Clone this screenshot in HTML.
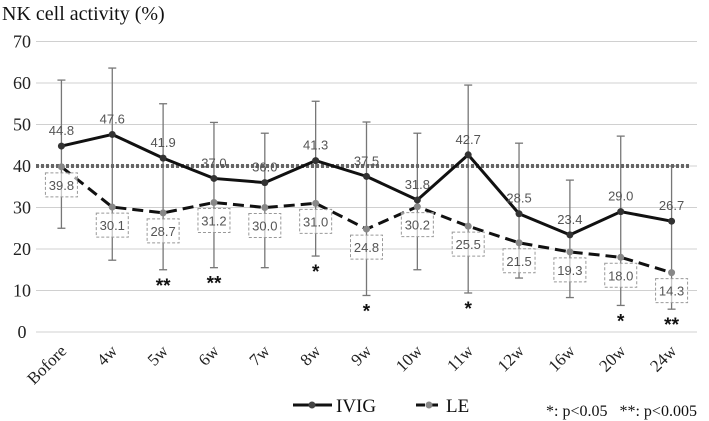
<!DOCTYPE html>
<html><head><meta charset="utf-8"><style>
html,body{margin:0;padding:0;background:#fff;}
svg{display:block;}
svg text.serif{font-family:'Liberation Serif','Times New Roman','DejaVu Serif',serif !important;}
svg text.sans{font-family:'Liberation Sans','DejaVu Sans',sans-serif !important;}
</style></head><body>
<svg id="chart" width="709" height="421" xmlns="http://www.w3.org/2000/svg">
<text class="serif" style="font-family:'Liberation Serif',serif" x="2" y="20" font-size="20" fill="#111">NK cell activity (%)</text>
<g id="grid"></g><g id="marks"></g><g id="labels"></g>
<g>
<g>
<line x1="293" y1="405" x2="332" y2="405" stroke="#111" stroke-width="3"/>
<circle cx="312" cy="405" r="3.5" fill="#444"/>
<text class="serif" style="font-family:'Liberation Serif',serif" x="336" y="412" font-size="19" fill="#111">IVIG</text></g>
<g>
<line x1="416" y1="405" x2="442" y2="405" stroke="#111" stroke-width="3" stroke-dasharray="9,4"/>
<circle cx="429" cy="405" r="3.5" fill="#888"/>
<text class="serif" style="font-family:'Liberation Serif',serif" x="446" y="412" font-size="19" fill="#111">LE</text></g>
</g>
<text class="serif" style="font-family:'Liberation Serif',serif;white-space:pre" x="546" y="416" font-size="16" fill="#111">*: p&lt;0.05   **: p&lt;0.005</text>
</svg>
<script>
const categories=["Bofore","4w","5w","6w","7w","8w","9w","10w","11w","12w","16w","20w","24w"];
const ivig=[44.8,47.6,41.9,37.0,36.0,41.3,37.5,31.8,42.7,28.5,23.4,29.0,26.7];
const le=[39.8,30.1,28.7,31.2,30.0,31.0,24.8,30.2,25.5,21.5,19.3,18.0,14.3];
const ivigUpper=[60.7,63.6,55.0,50.5,47.9,55.6,50.6,47.9,59.5,45.5,36.6,47.2,40.0];
const leLower=[25.0,17.3,15.0,15.5,15.5,18.3,8.8,15.0,9.4,13.0,8.3,6.4,5.5];
const sig=["","","**","**","","*","*","","*","","","*","**"];
const yTicks=[0,10,20,30,40,50,60,70];
const refValue=40;
const NS="http://www.w3.org/2000/svg";
const SERIF="font-family:'Liberation Serif',serif";
const x0=36,x1=697,yBase=332,yTop=41.5;
const xs=i=>x0+(x1-x0)/categories.length*(i+0.5);
const ys=v=>yBase-(yBase-yTop)*v/70;
function mk(p,tag,at){const e=document.createElementNS(NS,tag);for(const k in at)e.setAttribute(k,at[k]);p.appendChild(e);return e;}
const grid=document.getElementById('grid'),marks=document.getElementById('marks'),labels=document.getElementById('labels');
yTicks.forEach(t=>{
 const l=mk(grid,'line',{x1:x0,x2:x1,y1:ys(t),y2:ys(t),stroke:'#d0d0d0','stroke-width':1});
 
 
 const tx=mk(grid,'text',{x:22,y:ys(t)+6,'text-anchor':'middle','class':'serif',style:SERIF,'font-size':18,fill:'#222'});
 tx.textContent=t;
 
 
});
categories.forEach((c,i)=>{
 const tx=mk(labels,'text',{x:xs(i)+6,y:352,'text-anchor':'end','class':'serif',style:SERIF,'font-size':17,fill:'#222',transform:`rotate(-45 ${xs(i)+6} 352)`});
 tx.textContent=c;
 
 
});
categories.forEach((c,i)=>{
 const y1=ys(ivigUpper[i]),y2=ys(leLower[i]);
 const g=mk(marks,'g',{stroke:'#777','stroke-width':1.3});
 
 
 mk(g,'line',{x1:xs(i),x2:xs(i),y1:y1,y2:y2});
 mk(g,'line',{x1:xs(i)-4,x2:xs(i)+4,y1:y1,y2:y1});
 mk(g,'line',{x1:xs(i)-4,x2:xs(i)+4,y1:y2,y2:y2});
});
const ref=mk(marks,'line',{x1:x0,x2:690,y1:ys(refValue),y2:ys(refValue),stroke:'#666','stroke-width':4,'stroke-dasharray':'3,2'});


const lePath=mk(marks,'polyline',{points:le.map((v,i)=>xs(i)+','+ys(v)).join(' '),fill:'none',stroke:'#111','stroke-width':3,'stroke-dasharray':'11,6'});


const ivPath=mk(marks,'polyline',{points:ivig.map((v,i)=>xs(i)+','+ys(v)).join(' '),fill:'none',stroke:'#111','stroke-width':3});


le.forEach((v,i)=>{
 const p=mk(marks,'circle',{cx:xs(i),cy:ys(v),r:3.5,fill:'#888'});
 
 
 const bx=mk(labels,'rect',{x:xs(i)-16,y:ys(v)+6,width:32,height:24,fill:'#fff','fill-opacity':0.6,stroke:'#999','stroke-dasharray':'3,2'});
 
 
 const t=mk(labels,'text',{x:xs(i),y:ys(v)+23,'text-anchor':'middle','class':'sans','font-size':13,fill:'#555'});
 t.textContent=v.toFixed(1);
 
 
});
ivig.forEach((v,i)=>{
 const p=mk(marks,'circle',{cx:xs(i),cy:ys(v),r:3.5,fill:'#333'});
 
 
 const t=mk(labels,'text',{x:xs(i),y:ys(v)-11,'text-anchor':'middle','class':'sans','font-size':13,fill:'#555'});
 t.textContent=v.toFixed(1);
 
 
});
sig.forEach((s,i)=>{
 if(!s)return;
 const t=mk(labels,'text',{x:xs(i),y:ys(leLower[i])+22,'text-anchor':'middle','class':'sans','font-size':19,'font-weight':'bold',fill:'#111'});
 t.textContent=s;
 
 
});
</script>
</body></html>
